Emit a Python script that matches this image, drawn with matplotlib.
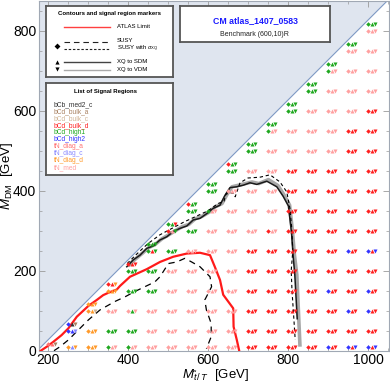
import matplotlib
matplotlib.use('Agg')
import matplotlib.pyplot as plt
from matplotlib.transforms import offset_copy
from matplotlib.ticker import MultipleLocator

plt.rcParams['font.family'] = ['Liberation Sans', 'DejaVu Sans']
plt.rcParams['mathtext.fontset'] = 'custom'
plt.rcParams['mathtext.rm'] = 'Liberation Sans'
plt.rcParams['mathtext.it'] = 'Liberation Sans:italic'
plt.rcParams['mathtext.bf'] = 'Liberation Sans:bold'

# ---------------- data ----------------
region_names = ['bCb_med2_c', 'bCd_bulk_a', 'bCd_bulk_c', 'bCd_bulk_d', 'bCd_high1',
                'bCd_high2', 'tN_diag_a', 'tN_diag_c', 'tN_diag_d', 'tN_med']
region_codes = ['k', 'a', 'c', 'd', 'g', 'b', 'p', 'l', 'o', 'm']
region_colors = ['#333333', '#a88060', '#d0b494', '#ff2020', '#20a820',
                 '#3535ff', '#ff7070', '#8a8aff', '#ff9a2a', '#ffa0a0']

mass_T = [200, 250, 300, 350, 400, 450, 500, 550, 600, 650, 700, 750, 800, 850, 900, 950, 1000]
dm_rows = [10, 50, 100, 150, 200, 250, 300, 350, 400, 450, 500, 550, 600, 650, 700, 750, 800]
dm_diag = [17, 67, 117, 167, 217, 267, 317, 367, 417, 467, 517, 567, 617, 667, 717, 767, 817]
# best signal region per point: (SUSY diamond, XQ->SDM up, XQ->VDM down),
# rows from the bottom up, last entry = point next to the diagonal
best_sr = [
    "ppa dkk",
    "olo bbl bka",
    "ooo ooo ooc ooo",
    "gmm ggg mmm ooo ddo",
    "gmm ggg mgm ggg ggg ddd",
    "mmm mmm mmm ggg ggg gdg ggg",
    "mmm mmm mmm mmm mmm ggg dmg ggd",
    "mmm mmm mmm mmm mmm mmm ggg ggg dgg",
    "mmm mmm mmm mmm mmm mmm mmm gmm ggg ggg",
    "mmm mmm mmm mmm mmm mmm mmm mmm mmm ggg dgg",
    "ddd ddd ddd ddd ddd ddd mmm mmm mmm mmm ggg ggg",
    "ddd ddd ddd ddd ddd ddd dmm mmm mmm mmm mmm gmm ggg",
    "ddd ddd ddd ddd ddd ddd ddd ddd ddd ddd mmm mmm ggg ggg",
    "ddd ddd ddd ddd ddd ddd ddd ddd ddd ddd mmm mmm mmm ggg ggg",
    "bdd ddd ddd bdd ddd ddd ddd ddd ddd ddd mmm mmm mmm mmm gmm ggg",
    "bdb ddd bdd ddd ddd bdd ddd ddd ddd ddd ddd ddd mmm mmm mmm mmm ggg",
    "bdb ddd bdd bdd ddd bdb ddd ddd ddd ddd ddd ddd ddd mmm mmm mmm mmm ggg",
]

top_mass = 173

atlas_x = [182, 200, 213, 234, 251, 272, 301, 322, 338, 351, 372, 380, 405, 447, 480, 513, 547,
           580, 605, 617, 630, 638, 663, 664, 672, 678]
atlas_y = [0, 12, 22, 39, 56, 85, 112, 127, 139, 145, 153, 162, 185, 204, 222, 235, 243,
           245, 239, 210, 177, 140, 106, 60, 27, 0]

susy_x = [215, 230, 251, 276, 301, 330, 367, 393, 417, 442, 467, 480, 501, 522, 542, 559, 580,
          605, 609, 592, 596, 608, 608, 596]
susy_y = [0, 10, 27, 52, 77, 102, 123, 135, 148, 160, 172, 185, 218, 222, 231, 222, 210,
          185, 160, 127, 102, 68, 35, 5]

susyxq_x = [398, 420, 450, 480, 510, 540, 570, 600, 625, 640, 645, 662, 668, 680, 700, 730,
            755, 780, 797, 805, 809, 812, 808, 810, 814, 818]
susyxq_y = [218, 240, 268, 290, 306, 322, 336, 350, 368, 374, 392, 395, 385, 420, 432, 434,
            440, 422, 397, 355, 310, 250, 200, 150, 90, 27]

sdm_x = [397, 413, 430, 447, 463, 480, 497, 513, 530, 547, 563, 580, 597, 613, 630, 642, 655,
         672, 688, 705, 722, 747, 772, 788, 801, 809, 813, 817, 823]
sdm_y = [210, 227, 239, 256, 262, 277, 285, 298, 306, 312, 327, 331, 343, 356, 364, 388, 408,
         410, 414, 420, 416, 424, 410, 386, 362, 293, 235, 190, 80]

vdm_x = [400, 418, 435, 452, 468, 485, 502, 518, 535, 552, 568, 585, 602, 618, 635, 647, 660,
         677, 693, 710, 727, 751, 775, 791, 804, 811, 816, 822, 826, 830]
vdm_y = [212, 229, 243, 258, 266, 280, 290, 300, 310, 316, 330, 336, 346, 360, 368, 390, 410,
         414, 418, 422, 418, 428, 413, 388, 364, 300, 240, 190, 100, 10]

# ---------------- figure ----------------
W, H = 390, 384
fig = plt.figure(figsize=(W / 100, H / 100), dpi=100)
ax = fig.add_axes([39 / W, 1 - 350.7 / H, 350 / W, 350.2 / H])
xmin, xmax, ymin, ymax = 177.5, 1052.5, 0, 876
ax.set_xlim(xmin, xmax)
ax.set_ylim(ymin, ymax)

# excluded region above the diagonal
dx = [xmin, xmax]
dy = [xmin - top_mass, xmax - top_mass]
ax.fill_between(dx, dy, [ymax + 100, ymax + 100], color='#dfe5ef', zorder=0, lw=0)
ax.plot(dx, dy, color='#7e99c4', lw=0.8, zorder=1)

# contours
ax.plot(vdm_x, vdm_y, color='#a8a8a8', lw=2.6, zorder=3, solid_capstyle='butt')
ax.plot(sdm_x, sdm_y, color='#1a1a1a', lw=1.1, zorder=4)
ax.plot(susy_x, susy_y, color='black', lw=0.9, ls=(0, (5, 4)), zorder=4)
ax.plot(susyxq_x, susyxq_y, color='black', lw=0.8, ls=(0, (3, 2.5)), zorder=4)
ax.plot(atlas_x, atlas_y, color='#ff1a1a', lw=1.6, zorder=5)

# markers
cmap = dict(zip(region_codes, region_colors))
tr_d = offset_copy(ax.transData, fig=fig, x=0.0, y=0, units='dots')
tr_u = offset_copy(ax.transData, fig=fig, x=3.7, y=0, units='dots')
tr_v = offset_copy(ax.transData, fig=fig, x=7.3, y=0, units='dots')
for mx, dgl, codes in zip(mass_T, dm_diag, best_sr):
    trip = codes.split()
    ys = [r for r in dm_rows if r <= mx - 200][:len(trip) - 1] + [dgl]
    for yv, t in zip(ys, trip):
        ax.plot([mx], [yv], marker='D', ms=2.3, color=cmap[t[0]], mew=0, transform=tr_d, zorder=6)
        ax.plot([mx], [yv], marker='^', ms=2.9, color=cmap[t[1]], mew=0, transform=tr_u, zorder=6)
        ax.plot([mx], [yv], marker='v', ms=2.9, color=cmap[t[2]], mew=0, transform=tr_v, zorder=6)

# axes styling
ax.xaxis.set_major_locator(MultipleLocator(200))
ax.xaxis.set_minor_locator(MultipleLocator(50))
ax.yaxis.set_major_locator(MultipleLocator(200))
ax.yaxis.set_minor_locator(MultipleLocator(50))
ax.tick_params(which='both', direction='in', top=True, right=True, color='#9a9a9a',
               labelsize=10, pad=2)
ax.tick_params(which='major', length=4, width=0.6)
ax.tick_params(which='minor', length=2, width=0.5)
for s in ax.spines.values():
    s.set_color('#a0a8b4')
    s.set_linewidth(0.8)
ax.set_xlabel(r'$M_{\tilde{t}\,/\,T}$  [GeV]', fontsize=9.5)
ax.set_ylabel(r'$M_{\rm DM}$  [GeV]', fontsize=9.5)
ax.xaxis.set_label_coords(0.503, -0.047)
ax.yaxis.set_label_coords(-0.068, 0.5)


# ---------------- boxes ----------------
def box(x0, y0, x1, y1):
    b = fig.add_axes([x0 / W, 1 - y1 / H, (x1 - x0) / W, (y1 - y0) / H])
    b.set_xlim(x0, x1)
    b.set_ylim(y1, y0)
    b.set_xticks([])
    b.set_yticks([])
    b.set_facecolor('white')
    for s in b.spines.values():
        s.set_color('#555555')
        s.set_linewidth(1.3)
    b.set_zorder(10)
    return b


b1 = box(46, 6, 173, 77)
b1.text(110, 14, 'Contours and signal region markers', fontsize=4.3, weight='bold',
        ha='center', va='center')
b1.plot([64, 110], [27, 27], color='#ff4040', lw=1.0)
b1.text(117, 27, 'ATLAS Limit', fontsize=4.3, va='center')
b1.plot([64, 110], [41.5, 41.5], color='#222222', lw=0.8, ls=(0, (5, 3.5)))
b1.text(117, 41, 'SUSY', fontsize=4.3, va='center')
b1.plot([64, 110], [48.5, 48.5], color='#222222', lw=0.8, ls=(0, (2.2, 1.6)))
b1.text(117, 49, r'SUSY with $\sigma_{\rm XQ}$', fontsize=4.3, va='center')
b1.plot([57], [45.5], marker='D', ms=3.0, color='black', mew=0)
b1.plot([64, 110], [62, 62], color='#444444', lw=1.0)
b1.text(117, 62, 'XQ to SDM', fontsize=4.3, va='center')
b1.plot([64, 110], [69.5, 69.5], color='#aaaaaa', lw=1.0)
b1.text(117, 69.5, 'XQ to VDM', fontsize=4.3, va='center')
b1.plot([56.5], [62], marker='^', ms=3.0, color='black', mew=0)
b1.plot([56.5], [69], marker='v', ms=3.0, color='black', mew=0)

b2 = box(46, 83, 173, 175)
b2.text(106, 91, 'List of Signal Regions', fontsize=4.3, weight='bold', ha='center', va='center')
for i, (nm, col) in enumerate(zip(region_names, region_colors)):
    b2.text(54, 105 + 6.95 * i, nm, fontsize=4.8, color=col, va='center')

b3 = box(180, 6, 330, 42)
b3.text(255, 21, 'CM atlas_1407_0583', fontsize=6.3, weight='bold', color='#1a1aff',
        ha='center', va='center')
b3.text(254, 34, 'Benchmark (600,10)R', fontsize=5.0, color='#222222', ha='center', va='center')

fig.savefig('out.png', dpi=100)
